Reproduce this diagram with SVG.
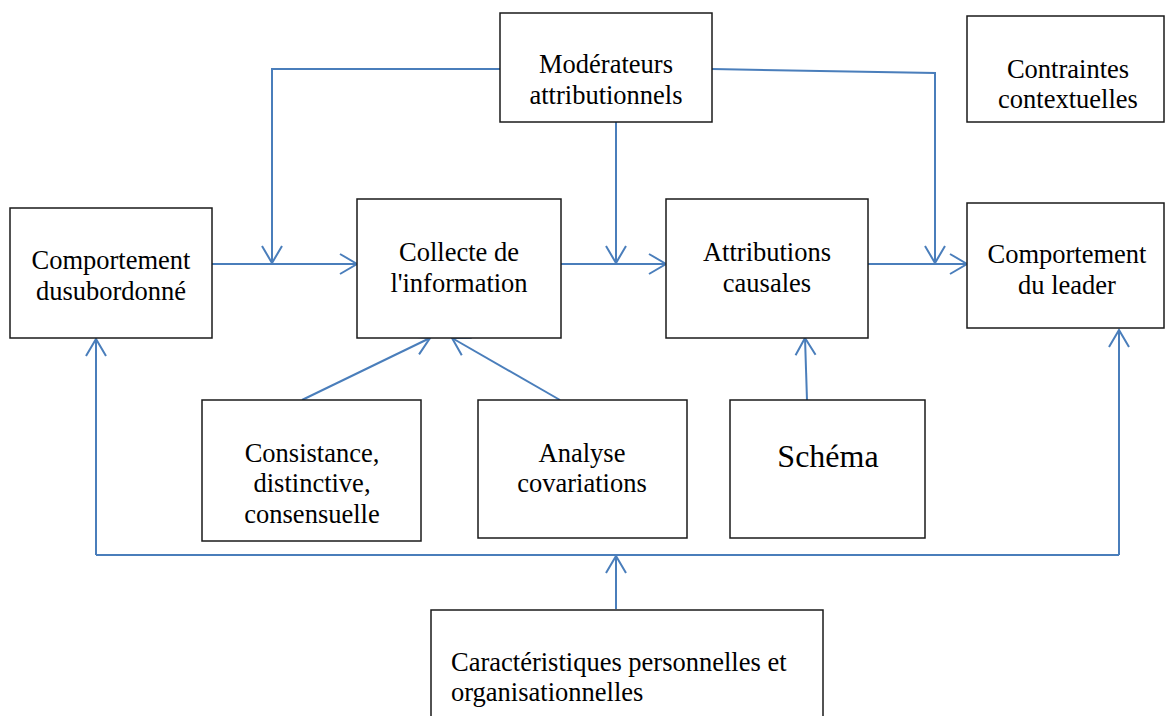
<svg xmlns="http://www.w3.org/2000/svg" width="1165" height="716" viewBox="0 0 1165 716">
<defs>
<style>
.box{fill:#fff;stroke:#1a1a1a;stroke-width:1.5}
.t{font-family:"Liberation Serif","Times New Roman",serif;font-size:26.5px;fill:#000;text-anchor:middle}
.tl{text-anchor:start}
.big{font-size:32px}
.c{fill:none;stroke:#4A7EBB;stroke-width:2}
</style>
<marker id="ah" viewBox="0 0 20 24" refX="18" refY="12" markerWidth="20" markerHeight="24" markerUnits="userSpaceOnUse" orient="auto">
<path d="M1,2 L18,12 L1,22" fill="none" stroke="#4A7EBB" stroke-width="2"/>
</marker>
</defs>
<rect width="1165" height="716" fill="#fff"/>
<g id="connectors">
<path class="c" d="M212,264 L357,264" marker-end="url(#ah)"/>
<path class="c" d="M500,69 L272,69 L272,263" marker-end="url(#ah)"/>
<path class="c" d="M561,264 L666,264" marker-end="url(#ah)"/>
<path class="c" d="M616,122 L616,263" marker-end="url(#ah)"/>
<path class="c" d="M712,69 L935,73 L935,263" marker-end="url(#ah)"/>
<path class="c" d="M868,264 L967,264" marker-end="url(#ah)"/>
<path class="c" d="M302,400 L430,338" marker-end="url(#ah)"/>
<path class="c" d="M560,400 L452,338" marker-end="url(#ah)"/>
<path class="c" d="M807,400 L805,338" marker-end="url(#ah)"/>
<path class="c" d="M616,609 L616,556" marker-end="url(#ah)"/>
<path class="c" d="M96,555 L1119,555"/>
<path class="c" d="M96,555 L96,339" marker-end="url(#ah)"/>
<path class="c" d="M1119,555 L1119,330" marker-end="url(#ah)"/>
</g>
<g id="n-sub">
<rect class="box" x="10" y="208" width="202" height="130"/>
<text class="t" x="111" y="269">Comportement</text>
<text class="t" x="111" y="300">dusubordonné</text>
</g>
<g id="n-moderateurs">
<rect class="box" x="500" y="13" width="212" height="109"/>
<text class="t" x="606" y="73">Modérateurs</text>
<text class="t" x="606" y="104">attributionnels</text>
</g>
<g id="n-collecte">
<rect class="box" x="357" y="199" width="204" height="139"/>
<text class="t" x="459" y="261">Collecte de</text>
<text class="t" x="459" y="292">l'information</text>
</g>
<g id="n-attributions">
<rect class="box" x="666" y="199" width="202" height="139"/>
<text class="t" x="767" y="261">Attributions</text>
<text class="t" x="767" y="292">causales</text>
</g>
<g id="n-contraintes">
<rect class="box" x="967" y="16" width="197" height="106"/>
<text class="t" x="1068" y="78">Contraintes</text>
<text class="t" x="1068" y="108">contextuelles</text>
</g>
<g id="n-leader">
<rect class="box" x="967" y="203" width="197" height="125"/>
<text class="t" x="1067" y="263">Comportement</text>
<text class="t" x="1067" y="294">du leader</text>
</g>
<g id="n-consistance">
<rect class="box" x="202" y="400" width="219" height="141"/>
<text class="t" x="312" y="462">Consistance,</text>
<text class="t" x="312" y="492">distinctive,</text>
<text class="t" x="312" y="523">consensuelle</text>
</g>
<g id="n-analyse">
<rect class="box" x="478" y="400" width="209" height="138"/>
<text class="t" x="582" y="462">Analyse</text>
<text class="t" x="582" y="492">covariations</text>
</g>
<g id="n-schema">
<rect class="box" x="730" y="400" width="195" height="138"/>
<text class="t big" x="828" y="467">Schéma</text>
</g>
<g id="n-caracteristiques">
<rect class="box" x="431" y="610" width="392" height="120"/>
<text class="t tl" x="451" y="671">Caractéristiques personnelles et</text>
<text class="t tl" x="451" y="701">organisationnelles</text>
</g>
</svg>
